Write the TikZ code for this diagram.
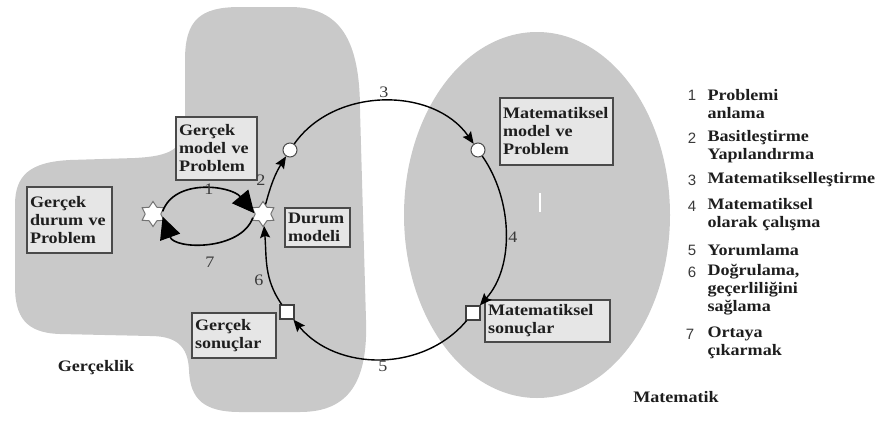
\documentclass[tikz,border=0pt]{standalone}
\usepackage{fontspec}
\setmainfont{Liberation Serif}[FakeStretch=1.13]
\newfontfamily\digitfont{Liberation Sans}
\usetikzlibrary{shapes.geometric,arrows.meta}
\definecolor{regionfill}{HTML}{C9C9C9}
\definecolor{boxfill}{HTML}{E6E6E6}
\definecolor{boxline}{HTML}{4A4A4A}
\definecolor{ink}{HTML}{1E1E1E}
\definecolor{numink}{HTML}{3A3A3A}
\begin{document}
\begin{tikzpicture}[x=1pt,y=-1pt,
  txt/.style={font=\fontsize{16}{18}\selectfont\bfseries, text=ink},
  textbox/.style={txt, draw=boxline, line width=1.4pt, fill=boxfill, align=left,
    inner xsep=3pt, inner ysep=2pt},
  num/.style={font=\fontsize{16}{18}\selectfont, text=numink, inner sep=1pt},
  keynum/.style={font=\digitfont\fontsize{15}{18}\selectfont, text=numink, inner sep=1pt},
  starnode/.style={star, star points=6, star point ratio=1.6, minimum size=25pt,
    inner sep=0pt, fill=white, draw=black!55, line width=1pt},
  ringnode/.style={circle, minimum size=14pt, inner sep=0pt, fill=white,
    draw=black!70, line width=1pt},
  sqnode/.style={rectangle, minimum size=14pt, inner sep=0pt, fill=white,
    draw=black!75, line width=1.2pt},
  flow/.style={line width=1.4pt, -{Stealth[length=12pt,width=10pt,inset=2pt]}},
  bigflow/.style={line width=1.6pt, -{Triangle[length=22pt,width=21pt]}},
]
\useasboundingbox (0,0) rectangle (886,421);

% the two domains
\fill[regionfill] (185,60) .. controls (185,20) and (200,7) .. (240,7)
  -- (290,7) .. controls (340,7) and (360,40) .. (360,110)
  -- (366,320) .. controls (368,380) and (350,412) .. (300,412)
  -- (240,412) .. controls (205,412) and (190,400) .. (189,370)
  .. controls (188,345) and (175,336) .. (150,336)
  -- (60,334) .. controls (25,333) and (15,316) .. (15,286)
  -- (15,205) .. controls (15,175) and (30,162) .. (70,160)
  -- (135,158) .. controls (170,156) and (185,150) .. (185,120) -- cycle;
\fill[regionfill] (537,215) ellipse [x radius=133, y radius=183];
\draw[white, line width=1.5pt] (540,193) -- (540,212);

% labelled boxes
\node[textbox, text width=79pt, minimum height=66pt] (gdp) at (69.5,220)
  {Gerçek\\durum ve\\Problem};
\node[textbox, text width=75pt, minimum height=63pt] (gmp) at (216.5,148.5)
  {Gerçek\\model ve\\Problem};
\node[textbox, text width=59pt, minimum height=39pt] (dm) at (317.5,227.5)
  {Durum\\modeli};
\node[textbox, text width=78pt, minimum height=45pt] (gs) at (234,335.5)
  {Gerçek\\sonuçlar};
\node[textbox, text width=107pt, minimum height=67pt] (mmp) at (556.5,131.5)
  {Matematiksel\\model ve\\Problem};
\node[textbox, text width=119pt, minimum height=42pt] (ms) at (547.5,321)
  {Matematiksel\\sonuçlar};

% states on the cycle
\node[starnode] (ls) at (153,214) {};
\node[starnode] (ds) at (263,214) {};
\node[ringnode] (ctl) at (290,150) {};
\node[ringnode] (ctr) at (478,150) {};
\node[sqnode] (sbr) at (473,313) {};
\node[sqnode] (sbl) at (287,312) {};

% modelling cycle
\draw[bigflow] (ls.15) to[out=70,in=130] (ds.175);
\draw[bigflow] (ds.200) to[out=-110,in=-70] (ls.-15);
\draw[flow] (ds) to[out=75,in=238] (ctl);
\draw[flow] (ctl) to[out=55,in=125] (ctr);
\draw[flow, looseness=0.9] (ctr) to[out=-55,in=48] (sbr);
\draw[flow] (sbr) to[out=-130,in=-50] (sbl);
\draw[flow] (sbl) to[out=125,in=-85] (ds);

% step numbers
\node[num] (n1) at (209,189) {1};
\node[num] (n2) at (261,180) {2};
\node[num] (n3) at (384,92) {3};
\node[num] (n4) at (513,237) {4};
\node[num] (n5) at (383,366) {5};
\node[num] (n6) at (259,280) {6};
\node[num] (n7) at (210,262) {7};

% domain names
\node[txt] (real) at (96,368) {Gerçeklik};
\node[txt] (math) at (676,397) {Matematik};

% legend
\node[keynum] (k1) at (692,95) {1};
\node[txt, anchor=west, align=left] (l1) at (704,104) {Problemi\\anlama};
\node[keynum] (k2) at (692,138) {2};
\node[txt, anchor=west, align=left] (l2) at (704,147) {Basitleştirme\\Yapılandırma};
\node[keynum] (k3) at (692,180) {3};
\node[txt, anchor=west, align=left] (l3) at (704,180) {Matematikselleştirme};
\node[keynum] (k4) at (692,206) {4};
\node[txt, anchor=west, align=left] (l4) at (704,215) {Matematiksel\\olarak çalışma};
\node[keynum] (k5) at (692,250) {5};
\node[txt, anchor=west, align=left] (l5) at (704,250) {Yorumlama};
\node[keynum] (k6) at (692,272) {6};
\node[txt, anchor=west, align=left] (l6) at (704,290) {Doğrulama,\\geçerliliğini\\sağlama};
\node[keynum] (k7) at (690,334) {7};
\node[txt, anchor=west, align=left] (l7) at (704,343) {Ortaya\\çıkarmak};
\end{tikzpicture}
\end{document}
